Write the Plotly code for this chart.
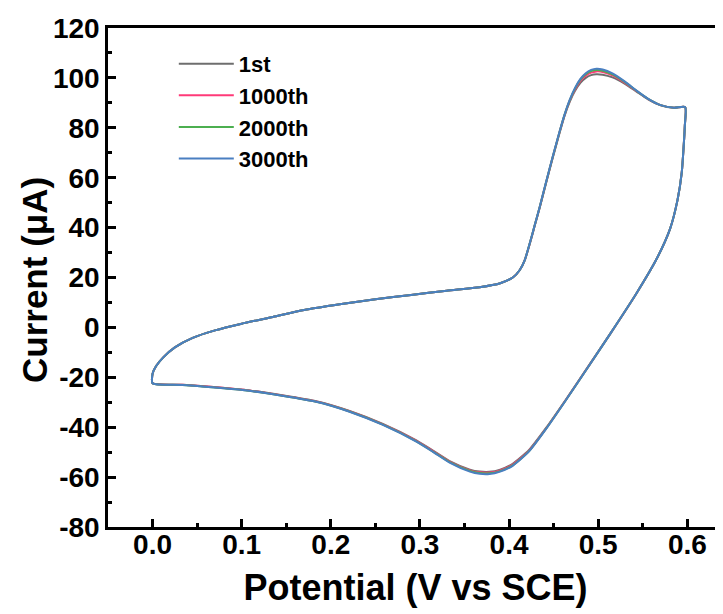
import plotly.graph_objects as go

# ---- data (potential in V vs SCE, current in µA) ----
series_names = ["1st", "1000th", "2000th", "3000th"]
series_colors = ["#6e6e6e", "#ff3a78", "#4caf50", "#4a7fc1"]

# forward (anodic) scan 0.0 -> 0.6 V
fwd_x = [0.000, 0.000, 0.004, 0.012, 0.025, 0.045, 0.070, 0.100, 0.135, 0.170,
         0.210, 0.250, 0.290, 0.330, 0.367, 0.390, 0.4045, 0.412, 0.4176, 0.4232,
         0.4288, 0.4345, 0.4415, 0.449, 0.4565, 0.462, 0.468, 0.474, 0.480, 0.486,
         0.492, 0.498, 0.505, 0.516, 0.530, 0.543, 0.556, 0.570, 0.585, 0.5975]
# reverse (cathodic) scan 0.6 -> 0.0 V
rev_x = [0.5972, 0.5963, 0.5937, 0.589, 0.5806, 0.5656, 0.543, 0.5136, 0.490, 0.464,
         0.4415, 0.4224, 0.404, 0.390, 0.378, 0.367, 0.356, 0.3333, 0.3146, 0.296,
         0.2584, 0.221, 0.1836, 0.1087, 0.0337, 0.000]

fwd_y_1st = [-22.4, -18.6, -15.5, -12.0, -8.0, -4.2, -1.2, 1.5, 4.2, 7.0,
             9.3, 11.3, 13.0, 14.7, 16.1, 17.7, 20.1, 23.0, 27.0, 33.5,
             40.8, 48.2, 57.9, 68.0, 77.8, 84.6, 90.4, 94.8, 98.0, 100.0,
             101.1, 101.5, 101.3, 100.2, 97.6, 94.5, 91.4, 89.0, 88.0, 88.3]
rev_y_1st = [81.0, 75.0, 62.0, 51.1, 39.5, 27.5, 13.7, -2.5, -15.0, -28.8,
             -40.3, -49.1, -54.7, -57.0, -57.9, -57.8, -57.0, -53.6, -49.4, -45.3,
             -38.7, -33.5, -29.6, -25.3, -23.0, -22.4]

fwd_y_1000 = [-22.4, -18.6, -15.5, -12.0, -8.0, -4.2, -1.2, 1.5, 4.2, 7.0,
              9.3, 11.3, 13.0, 14.7, 16.1, 17.7, 20.1, 23.0, 27.0, 33.6,
              40.9, 48.4, 58.1, 68.3, 78.1, 84.8, 90.8, 95.4, 98.8, 100.9,
              102.1, 102.6, 102.4, 101.0, 98.0, 94.7, 91.5, 89.1, 88.0, 88.3]
rev_y_1000 = [81.0, 75.0, 62.0, 51.1, 39.5, 27.5, 13.7, -2.5, -15.1, -28.9,
              -40.5, -49.4, -55.0, -57.3, -58.2, -58.1, -57.3, -53.8, -49.6, -45.5,
              -38.9, -33.6, -29.7, -25.3, -23.0, -22.4]

fwd_y_2000 = [-22.4, -18.6, -15.5, -12.0, -8.0, -4.2, -1.2, 1.5, 4.2, 7.0,
              9.3, 11.3, 13.0, 14.7, 16.1, 17.7, 20.1, 23.0, 27.0, 33.7,
              41.0, 48.5, 58.2, 68.4, 78.2, 85.0, 91.0, 95.8, 99.3, 101.5,
              102.7, 103.2, 102.9, 101.4, 98.3, 94.8, 91.6, 89.1, 88.0, 88.3]
rev_y_2000 = [81.0, 75.0, 62.0, 51.1, 39.5, 27.5, 13.7, -2.5, -15.2, -29.0,
              -40.6, -49.6, -55.3, -57.6, -58.5, -58.4, -57.5, -54.0, -49.8, -45.7,
              -39.0, -33.7, -29.8, -25.4, -23.1, -22.4]

fwd_y_3000 = [-22.4, -18.6, -15.5, -12.0, -8.0, -4.2, -1.2, 1.5, 4.2, 7.0,
              9.3, 11.3, 13.0, 14.7, 16.1, 17.7, 20.1, 23.0, 27.0, 33.7,
              41.0, 48.5, 58.3, 68.5, 78.3, 85.0, 91.2, 96.0, 99.6, 101.9,
              103.2, 103.7, 103.4, 101.8, 98.5, 94.9, 91.6, 89.1, 88.0, 88.3]
rev_y_3000 = [81.0, 75.0, 62.0, 51.1, 39.5, 27.5, 13.7, -2.5, -15.2, -29.0,
              -40.7, -49.7, -55.5, -57.8, -58.8, -58.7, -57.8, -54.2, -49.9, -45.8,
              -39.1, -33.8, -29.8, -25.4, -23.1, -22.4]

x_tick_vals = [0.0, 0.1, 0.2, 0.3, 0.4, 0.5, 0.6]
x_tick_text = ["0.0", "0.1", "0.2", "0.3", "0.4", "0.5", "0.6"]
y_tick_vals = [-80, -60, -40, -20, 0, 20, 40, 60, 80, 100, 120]
y_tick_text = ["-80", "-60", "-40", "-20", "0", "20", "40", "60", "80", "100", "120"]

loop_y = [fwd_y_1st + rev_y_1st, fwd_y_1000 + rev_y_1000,
          fwd_y_2000 + rev_y_2000, fwd_y_3000 + rev_y_3000]
loop_x = fwd_x + rev_x

FONT = "Liberation Sans, Arial, sans-serif"

fig = go.Figure()
for name, color, ys in zip(series_names, series_colors, loop_y):
    fig.add_trace(go.Scatter(
        x=loop_x, y=ys, mode="lines", name=name,
        line=dict(color=color, width=2, shape="spline", smoothing=0.6),
    ))

axis_common = dict(
    showline=True, linecolor="black", linewidth=2.5,
    ticks="inside", ticklen=8, tickwidth=2.5, tickcolor="black",
    showgrid=False, zeroline=False, automargin=False,
    tickfont=dict(family=FONT, size=28, color="black", weight="bold"),
)

fig.update_xaxes(
    **axis_common,
    range=[-0.05, 0.64],
    tickvals=x_tick_vals, ticktext=x_tick_text,
    minor=dict(dtick=0.05, tick0=0.0, ticks="inside", ticklen=4, tickwidth=2.5, tickcolor="black"),
    mirror=True,
    title=dict(text="Potential (V vs SCE)", standoff=16,
               font=dict(family=FONT, size=36, color="black", weight="bold")),
    ticklabelstandoff=-9,
)
fig.update_yaxes(
    **axis_common,
    range=[-80, 120],
    tickvals=y_tick_vals, ticktext=y_tick_text,
    minor=dict(dtick=10, tick0=0, ticks="inside", ticklen=4, tickwidth=2.5, tickcolor="black"),
    ticklabelstandoff=0,
)

# the page body adds an 8 px offset, so the figure is 8 px smaller than the window
fig.update_layout(
    width=715, height=606,
    margin=dict(l=100, r=0, t=20, b=87, autoexpand=False),
    paper_bgcolor="white", plot_bgcolor="white",
    showlegend=True,
    legend=dict(
        x=0.107, y=0.97, xanchor="left", yanchor="top",
        bgcolor="rgba(0,0,0,0)", borderwidth=0,
        font=dict(family=FONT, size=22, color="black", weight="bold"),
        itemwidth=55, tracegroupgap=0,
    ),
    annotations=[dict(
        text="Current (μA)", textangle=-90, showarrow=False,
        xref="paper", yref="paper", x=-0.1187, y=0.495,
        xanchor="center", yanchor="middle",
        font=dict(family=FONT, size=35, color="black", weight="bold"),
    )],
)

fig.write_html("out.html")
